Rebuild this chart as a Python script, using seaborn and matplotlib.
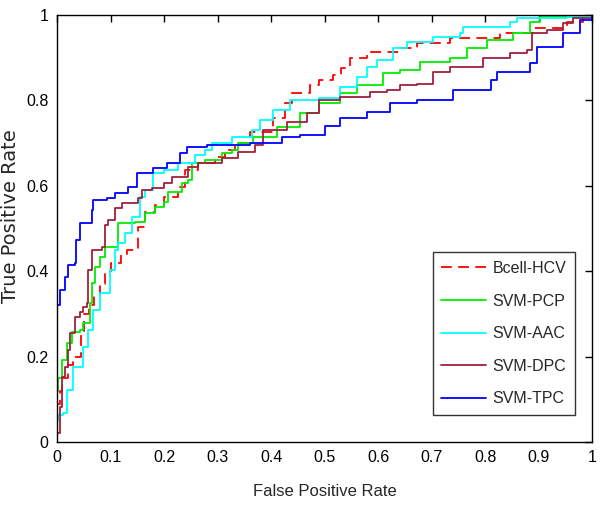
import matplotlib
matplotlib.use("Agg")
import matplotlib.pyplot as plt
import pandas as pd
import seaborn as sns

# (false positive rate, true positive rate) points
bcell_hcv = [(0, 0), (0, 0.09), (0.005, 0.12), (0.01, 0.15), (0.02, 0.18), (0.03, 0.2),
             (0.045, 0.25), (0.05, 0.3), (0.06, 0.32), (0.07, 0.34), (0.08, 0.37), (0.09, 0.40),
             (0.1, 0.42), (0.12, 0.44), (0.131, 0.45), (0.152, 0.503), (0.165, 0.539),
             (0.183, 0.555), (0.2, 0.574), (0.226, 0.597), (0.24, 0.637), (0.264, 0.653),
             (0.295, 0.668), (0.314, 0.684), (0.333, 0.70), (0.36, 0.726), (0.404, 0.758),
             (0.426, 0.794), (0.44, 0.817), (0.473, 0.836), (0.49, 0.848), (0.516, 0.86),
             (0.53, 0.875), (0.548, 0.899), (0.579, 0.913), (0.641, 0.923), (0.673, 0.934),
             (0.735, 0.946), (0.828, 0.958), (0.89, 0.969), (0.953, 0.984), (0.983, 1.0),
             (1.0, 1.0)]

svm_pcp = [(0, 0), (0, 0.12), (0.002, 0.15), (0.009, 0.192), (0.018, 0.232), (0.028, 0.258),
           (0.043, 0.262), (0.049, 0.279), (0.062, 0.326), (0.065, 0.372), (0.071, 0.41),
           (0.08, 0.433), (0.09, 0.457), (0.114, 0.473), (0.114, 0.513), (0.146, 0.515),
           (0.164, 0.536), (0.183, 0.55), (0.2, 0.562), (0.207, 0.585), (0.234, 0.606),
           (0.245, 0.614), (0.252, 0.653), (0.277, 0.66), (0.308, 0.677), (0.327, 0.684),
           (0.338, 0.70), (0.366, 0.714), (0.411, 0.738), (0.454, 0.77), (0.49, 0.794),
           (0.529, 0.817), (0.56, 0.836), (0.609, 0.864), (0.641, 0.871), (0.679, 0.89),
           (0.735, 0.899), (0.766, 0.923), (0.804, 0.941), (0.852, 0.958), (0.884, 0.984),
           (0.903, 0.995), (1.0, 1.0)]

svm_aac = [(0, 0), (0, 0.05), (0.002, 0.063), (0.012, 0.068), (0.018, 0.122), (0.03, 0.176),
           (0.049, 0.223), (0.058, 0.262), (0.067, 0.309), (0.08, 0.349), (0.099, 0.403),
           (0.108, 0.45), (0.114, 0.466), (0.127, 0.489), (0.14, 0.527), (0.155, 0.574),
           (0.164, 0.59), (0.18, 0.63), (0.2, 0.637), (0.226, 0.653), (0.258, 0.672),
           (0.277, 0.684), (0.29, 0.70), (0.327, 0.714), (0.364, 0.731), (0.379, 0.754),
           (0.404, 0.777), (0.435, 0.80), (0.49, 0.805), (0.529, 0.831), (0.56, 0.855),
           (0.579, 0.878), (0.598, 0.895), (0.628, 0.923), (0.654, 0.937), (0.703, 0.948),
           (0.753, 0.958), (0.759, 0.972), (0.847, 0.984), (0.86, 0.993), (0.953, 0.995),
           (1.0, 1.0)]

svm_dpc = [(0, 0), (0, 0.02), (0.006, 0.082), (0.009, 0.152), (0.015, 0.176), (0.021, 0.215),
           (0.024, 0.255), (0.034, 0.293), (0.043, 0.305), (0.049, 0.316), (0.056, 0.326),
           (0.058, 0.403), (0.065, 0.45), (0.084, 0.457), (0.09, 0.508), (0.095, 0.52),
           (0.108, 0.548), (0.121, 0.56), (0.151, 0.571), (0.159, 0.59), (0.178, 0.595),
           (0.2, 0.606), (0.215, 0.621), (0.245, 0.644), (0.264, 0.653), (0.308, 0.665),
           (0.338, 0.679), (0.37, 0.696), (0.385, 0.731), (0.43, 0.749), (0.467, 0.77),
           (0.49, 0.80), (0.529, 0.808), (0.585, 0.82), (0.617, 0.824), (0.641, 0.836),
           (0.673, 0.838), (0.703, 0.866), (0.735, 0.878), (0.796, 0.899), (0.847, 0.911),
           (0.879, 0.918), (0.888, 0.958), (0.916, 0.965), (0.946, 0.981), (0.964, 0.993),
           (1.0, 1.0)]

svm_tpc = [(0, 0), (0, 0.32), (0.005, 0.356), (0.015, 0.387), (0.021, 0.415), (0.034, 0.42),
           (0.036, 0.473), (0.043, 0.513), (0.065, 0.543), (0.068, 0.567), (0.093, 0.571),
           (0.108, 0.583), (0.133, 0.598), (0.149, 0.63), (0.18, 0.641), (0.205, 0.653),
           (0.23, 0.677), (0.243, 0.691), (0.28, 0.696), (0.36, 0.70), (0.42, 0.714),
           (0.454, 0.72), (0.50, 0.74), (0.529, 0.759), (0.58, 0.773), (0.622, 0.794),
           (0.673, 0.80), (0.74, 0.824), (0.81, 0.848), (0.822, 0.866), (0.884, 0.887),
           (0.897, 0.925), (0.946, 0.958), (0.978, 0.988), (1.0, 1.0)]

methods = ["Bcell-HCV", "SVM-PCP", "SVM-AAC", "SVM-DPC", "SVM-TPC"]
curves = [bcell_hcv, svm_pcp, svm_aac, svm_dpc, svm_tpc]
colors = {"Bcell-HCV": "#FF0000", "SVM-PCP": "#00EE00", "SVM-AAC": "#00FFFF",
          "SVM-DPC": "#A0203C", "SVM-TPC": "#0000FF"}
dashes = {"Bcell-HCV": (6, 3.5), "SVM-PCP": "", "SVM-AAC": "", "SVM-DPC": "", "SVM-TPC": ""}

xtick_labels = ["0", "0.1", "0.2", "0.3", "0.4", "0.5", "0.6", "0.7", "0.8", "0.9", "1"]
ytick_labels = ["0", "0.2", "0.4", "0.6", "0.8", "1"]

rows = []
for name, pts in zip(methods, curves):
    for i, (x, y) in enumerate(pts):
        rows.append({"method": name, "order": i, "fpr": x, "tpr": y})
df = pd.DataFrame(rows)

sns.set_style("white")
plt.rcParams["font.family"] = ["Liberation Sans", "DejaVu Sans"]

fig = plt.figure(figsize=(6, 5.09), dpi=100)
ax = fig.add_axes([0.095, 0.1316, 0.892, 0.8389])

sns.lineplot(data=df, x="fpr", y="tpr", hue="method", style="method",
             hue_order=methods, style_order=methods, palette=colors, dashes=dashes,
             estimator=None, sort=False, units="method", lw=1.3,
             drawstyle="steps-post", ax=ax)

ax.set_xlim(0, 1)
ax.set_ylim(0, 1)
ax.set_xticks([i / 10 for i in range(11)])
ax.set_xticklabels(xtick_labels)
ax.set_yticks([0, 0.2, 0.4, 0.6, 0.8, 1])
ax.set_yticklabels(ytick_labels)
ax.tick_params(direction="in", length=5, width=1, top=True, right=True,
               labelsize=11.5, pad=6, colors="black")
for sp in ax.spines.values():
    sp.set_color("black")
    sp.set_linewidth(1)

ax.set_xlabel("False Positive Rate", fontsize=12)
ax.xaxis.set_label_coords(0.5, -0.098)
ax.set_ylabel("True Positive Rate", fontsize=14, family=["DejaVu Sans"])
ax.yaxis.set_label_coords(-0.069, 0.53)

old = ax.get_legend()
handles = old.legend_handles
labels = [t.get_text() for t in old.get_texts()]
old.remove()
leg = ax.legend(handles, labels, loc="lower right", bbox_to_anchor=(0.968, 0.063),
                borderaxespad=0, fontsize=11.5, frameon=True, fancybox=False,
                edgecolor="black", handlelength=2.8, labelspacing=1.1,
                borderpad=0.55, handletextpad=0.4)
leg.get_frame().set_linewidth(1)

fig.savefig("out.png", dpi=100)
